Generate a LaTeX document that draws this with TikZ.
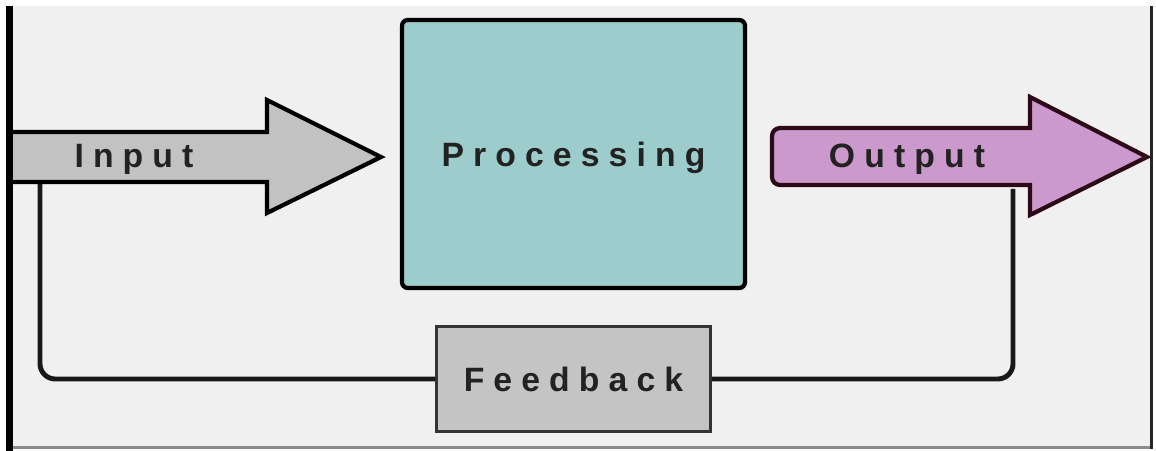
\documentclass[tikz,border=0pt]{standalone}
\usepackage{fontspec}
\usepackage{tikz}
\usetikzlibrary{positioning}

\newfontfamily\lblfont[LetterSpace=27]{Liberation Sans}

\definecolor{panel}{HTML}{F0F0F0}
\definecolor{arrowgray}{HTML}{C2C2C2}
\definecolor{teal}{HTML}{9CCCCB}
\definecolor{mauve}{HTML}{CC99CC}
\definecolor{maroon}{HTML}{2E0A18}
\definecolor{boxgray}{HTML}{C4C4C4}
\definecolor{ink}{HTML}{222222}

\tikzset{
    lbl/.style={font=\lblfont\fontsize{24}{28}\selectfont\bfseries, text=ink,
        inner sep=0pt, text height=17.2pt, text depth=0pt},
    procbox/.style={lbl, draw=black, line width=3pt, fill=teal, rounded corners=0.15cm,
        minimum width=8.575cm, minimum height=6.7cm},
    fbbox/.style={lbl, draw=black!80, line width=2.2pt, fill=boxgray,
        minimum width=6.85cm, minimum height=2.625cm},
    fbline/.style={draw=black!90, line width=3.5pt, rounded corners=0.38cm}
}

\begin{document}
\begin{tikzpicture}[x=0.025cm,y=-0.025cm]
    \useasboundingbox (0,0) rectangle (1156,451);
    \fill[white] (0,0) rectangle (1156,451);
    \fill[panel] (9,6) rectangle (1151,447);
    \draw[black!45, line width=1.5pt] (9,447.5) -- (1151,447.5);
    \draw[black!85, line width=2pt] (1151.5,6) -- (1151.5,449);

    \node[procbox] at (573.5,154) (proc){Processing};
    \node[fbbox] at (573.5,379) (fb){Feedback};

    \coordinate (inbot) at (40,180);
    \coordinate (outbot) at (1013,189);
    \draw[fbline] (inbot) |- (fb.west);
    \draw[fbline] (outbot) |- (fb.east);

    % input arrow
    \draw[fill=arrowgray, line width=3pt]
        (10,132) -- (267,132) -- (267,100) -- (381,157) -- (267,213) -- (267,182) -- (10,182) -- cycle;
    \draw[black, line width=0.19cm] (9.5,6) -- (9.5,451);
    \node[lbl, anchor=center] at (134,155) (input){Input};

    % output arrow
    \draw[fill=mauve, draw=maroon, line width=3pt]
        (1030,128) -- (1030,97) -- (1147,157) -- (1030,215) -- (1030,185) -- (780,185)
        arc[start angle=90, end angle=180, radius=8] -- (772,136)
        arc[start angle=180, end angle=270, radius=8] -- cycle;
    \node[lbl, anchor=center] at (907,155) (output){Output};
\end{tikzpicture}
\end{document}
